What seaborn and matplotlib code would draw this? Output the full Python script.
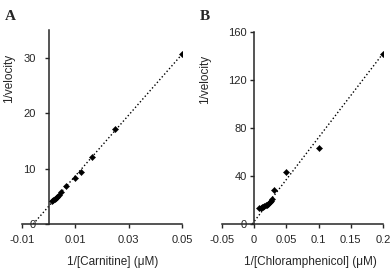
import numpy as np
import pandas as pd
import matplotlib
matplotlib.use('Agg')
import matplotlib.pyplot as plt
import seaborn as sns

sns.set_style('ticks')
plt.rcParams['font.family'] = ['Liberation Sans', 'DejaVu Sans']

# Panel A: carnitine (Lineweaver-Burk)
carn_x = [0.0013, 0.0018, 0.0023, 0.0028, 0.0033, 0.0040, 0.0048, 0.0065,
          0.0098, 0.0122, 0.0163, 0.0248, 0.05]
carn_y = [4.1, 4.3, 4.5, 4.7, 4.9, 5.2, 5.8, 6.8, 8.3, 9.4, 12.1, 17.1, 30.6]
carn_fit_x = [-0.0058, 0.05]
carn_fit_y = [0.0, 30.6]

# Panel B: chloramphenicol
chlor_x = [0.008, 0.010, 0.012, 0.014, 0.016, 0.018, 0.020, 0.022, 0.024,
           0.026, 0.028, 0.031, 0.049, 0.1, 0.2]
chlor_y = [13.0, 13.5, 14.0, 14.5, 15.0, 15.5, 16.0, 17.0, 18.0, 19.5,
           21.0, 28.0, 43.0, 63.0, 141.5]
chlor_fit_x = [-0.0029, 0.2]
chlor_fit_y = [0.0, 142.0]

dfA = pd.DataFrame({'x': carn_x, 'y': carn_y})
dfB = pd.DataFrame({'x': chlor_x, 'y': chlor_y})

fig = plt.figure(figsize=(3.92, 2.76), dpi=100)
axA = fig.add_axes([0.0561, 0.1884, 0.408, 0.703])
axB = fig.add_axes([0.566, 0.1884, 0.411, 0.696])

panels = [
    (axA, dfA, carn_fit_x, carn_fit_y, (-0.01, 0.05), (0, 35),
     [-0.01, 0.01, 0.03, 0.05], ['-0.01', '0.01', '0.03', '0.05'],
     [0, 10, 20, 30], '1/[Carnitine] (\u03bcM)', (0.57, -0.165), (-0.044, 0.75), 6.5),
    (axB, dfB, chlor_fit_x, chlor_fit_y, (-0.05, 0.2), (0, 160),
     [-0.05, 0, 0.05, 0.1, 0.15, 0.2], ['-0.05', '0', '0.05', '0.1', '0.15', '0.2'],
     [0, 40, 80, 120, 160], '1/[Chloramphenicol] (\u03bcM)', (0.547, -0.165), (-0.068, 0.75), 2),
]

for ax, df, fx, fy, xl, yl, xt, xtl, yt, xlab, xlc, ylc, ypad in panels:
    ax.plot(fx, fy, linestyle=':', color='black', linewidth=1.0)
    sns.scatterplot(data=df, x='x', y='y', ax=ax, marker='D', s=10,
                    color='black', edgecolor='black', linewidth=0.3, zorder=3)
    ax.set_xlim(*xl)
    ax.set_ylim(*yl)
    ax.set_xticks(xt)
    ax.set_xticklabels(xtl)
    ax.set_yticks(yt)
    ax.spines['left'].set_position(('data', 0))
    ax.spines['right'].set_visible(False)
    ax.spines['top'].set_visible(False)
    for s in ('left', 'bottom'):
        ax.spines[s].set_linewidth(1.1)
    ax.tick_params(direction='out', length=3, width=1.0, labelsize=8)
    ax.tick_params(axis='x', pad=5)
    ax.tick_params(axis='y', pad=ypad)
    ax.set_xlabel(xlab, fontsize=8.5)
    ax.set_ylabel('1/velocity', fontsize=8.5)
    ax.xaxis.set_label_coords(*xlc)
    ax.yaxis.set_label_coords(*ylc)

fig.text(0.013, 0.965, 'A', fontsize=11, fontweight='bold',
         family='Liberation Serif', va='top')
fig.text(0.51, 0.965, 'B', fontsize=11, fontweight='bold',
         family='Liberation Serif', va='top')

fig.savefig('out.png', dpi=100)
